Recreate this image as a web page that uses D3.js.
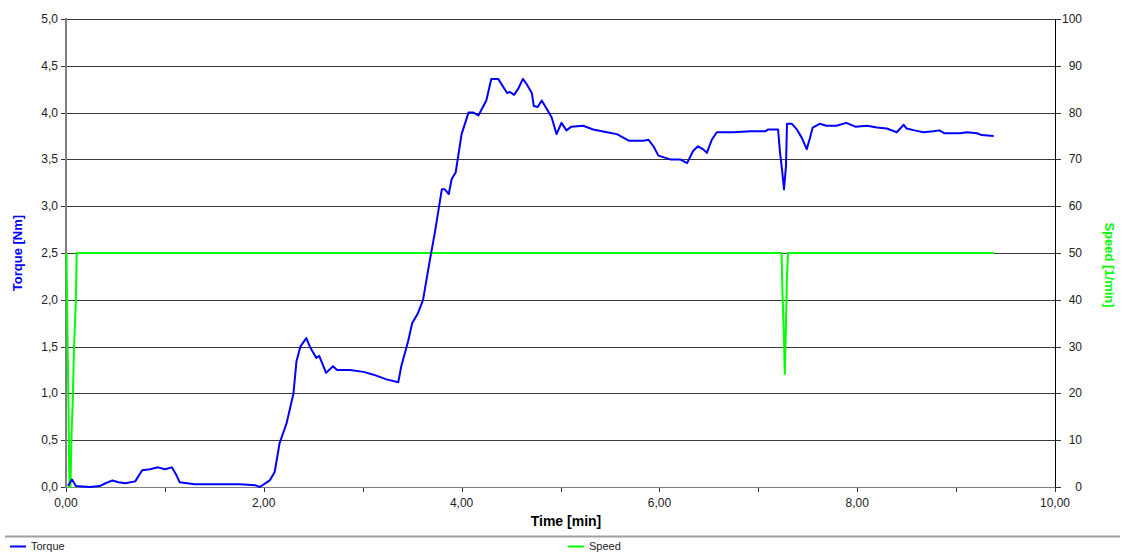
<!DOCTYPE html>
<html>
<head>
<meta charset="utf-8">
<script src="https://cdn.jsdelivr.net/npm/d3@7"></script>
<style>
  html, body { margin: 0; padding: 0; background: #fff; }
  svg { display: block; font-family: "Liberation Sans", Arial, sans-serif; }
</style>
</head>
<body>
<svg id="chart" width="1125" height="553"></svg>
<script>
// Torque measurement over time (min), with the drive speed on a secondary axis
const torqueTime = [0.02,0.06,0.10,0.24,0.34,0.40,0.47,0.53,0.60,0.70,0.77,0.85,0.93,1.00,1.07,1.11,1.15,1.30,1.51,1.76,1.91,1.96,
  2.06,2.11,2.16,2.23,2.30,2.33,2.37,2.43,2.47,2.53,2.56,2.63,2.70,2.74,2.87,3.01,3.11,3.24,3.36,3.39,3.46,3.50,3.56,3.61,
  3.68,3.73,3.80,3.83,3.87,3.90,3.94,4.00,4.07,4.12,4.17,4.25,4.30,4.37,4.46,4.49,4.53,4.57,4.62,4.66,4.71,4.73,4.77,4.81,
  4.86,4.91,4.96,5.01,5.06,5.11,5.23,5.33,5.47,5.57,5.69,5.84,5.89,5.94,5.99,6.11,6.21,6.28,6.34,6.39,6.44,6.48,6.53,6.58,
  6.75,6.92,7.07,7.10,7.20,7.22,7.24,7.26,7.28,7.29,7.34,7.39,7.44,7.49,7.52,7.55,7.62,7.69,7.79,7.89,7.98,8.10,8.20,8.30,
  8.40,8.47,8.50,8.58,8.67,8.77,8.83,8.88,9.04,9.11,9.21,9.26,9.38];
const torqueNm = [0.01,0.08,0.01,0.00,0.01,0.04,0.07,0.05,0.04,0.06,0.18,0.19,0.21,0.19,0.21,0.14,0.05,0.03,0.03,0.03,0.02,0.00,
  0.07,0.16,0.47,0.68,1.00,1.34,1.50,1.59,1.49,1.38,1.40,1.22,1.29,1.25,1.25,1.23,1.20,1.15,1.12,1.29,1.56,1.75,1.86,2.00,
  2.43,2.72,3.18,3.18,3.13,3.29,3.36,3.77,4.00,4.00,3.97,4.13,4.36,4.36,4.21,4.22,4.19,4.25,4.36,4.30,4.21,4.07,4.06,4.13,
  4.04,3.95,3.77,3.89,3.81,3.85,3.86,3.82,3.79,3.77,3.70,3.70,3.71,3.64,3.54,3.50,3.50,3.46,3.59,3.64,3.61,3.57,3.71,3.79,
  3.79,3.80,3.80,3.82,3.82,3.57,3.39,3.18,3.43,3.88,3.88,3.82,3.73,3.61,3.72,3.84,3.88,3.86,3.86,3.89,3.85,3.86,3.84,3.83,
  3.79,3.87,3.83,3.81,3.79,3.80,3.81,3.78,3.78,3.79,3.78,3.76,3.75];

const speedTime = [0.005,0.015,0.025,0.035,0.045,0.057,0.068,0.080,0.100,0.108,7.235,7.245,7.258,7.268,7.280,7.290,7.300,9.38];
const speedRpm  = [50,33,17,0,0,12,18,29,40,50,50,41,33,24,35,45,50,50];

const torqueTicks = [0,0.5,1,1.5,2,2.5,3,3.5,4,4.5,5];
const speedTicks = [0,10,20,30,40,50,60,70,80,90,100];
const timeTicks = [0,1,2,3,4,5,6,7,8,9,10];
const timeLabels = [0,2,4,6,8,10];

const svg = d3.select("#chart");
const plotLeft = 66, plotRight = 1055, plotTop = 19, plotBottom = 487;

const x = d3.scaleLinear().domain([0, 10]).range([plotLeft, plotRight]);
const yT = d3.scaleLinear().domain([0, 5]).range([plotBottom, plotTop]);
const yS = d3.scaleLinear().domain([0, 100]).range([plotBottom, plotTop]);
const fmt1 = d3.format(".1f"), fmt2 = d3.format(".2f");
const comma = s => s.replace(".", ",");

// horizontal grid
svg.append("g").selectAll("line").data(torqueTicks.slice(1)).join("line")
  .attr("x1", plotLeft).attr("x2", plotRight)
  .attr("y1", d => Math.round(yT(d)) + 0.5).attr("y2", d => Math.round(yT(d)) + 0.5)
  .attr("stroke", "#3a3a3a").attr("stroke-width", 1);

// left axis
const gl = svg.append("g");
gl.selectAll("line").data(torqueTicks).join("line")
  .attr("x1", plotLeft - 5).attr("x2", plotLeft)
  .attr("y1", d => Math.round(yT(d)) + 0.5).attr("y2", d => Math.round(yT(d)) + 0.5)
  .attr("stroke", "#333");
gl.selectAll("text").data(torqueTicks).join("text")
  .attr("x", plotLeft - 8).attr("y", d => yT(d) + 4)
  .attr("text-anchor", "end").attr("font-size", 12).attr("fill", "#222")
  .text(d => comma(fmt1(d)));

// right axis
const gr = svg.append("g");
gr.selectAll("line").data(speedTicks).join("line")
  .attr("x1", plotRight).attr("x2", plotRight + 6)
  .attr("y1", d => Math.round(yS(d)) + 0.5).attr("y2", d => Math.round(yS(d)) + 0.5)
  .attr("stroke", "#333");
gr.selectAll("text").data(speedTicks).join("text")
  .attr("x", 1082).attr("y", d => yS(d) + 4)
  .attr("text-anchor", "end").attr("font-size", 12).attr("fill", "#222")
  .text(d => d);

// bottom axis ticks and labels
const gb = svg.append("g");
gb.selectAll("line").data(timeTicks).join("line")
  .attr("x1", d => Math.round(x(d)) + 0.5).attr("x2", d => Math.round(x(d)) + 0.5)
  .attr("y1", plotBottom).attr("y2", plotBottom + 5)
  .attr("stroke", "#333");
gb.selectAll("text").data(timeLabels).join("text")
  .attr("x", d => x(d)).attr("y", plotBottom + 20)
  .attr("text-anchor", "middle").attr("font-size", 12).attr("fill", "#222")
  .text(d => comma(fmt2(d)));

// frame lines
svg.append("line").attr("x1", plotRight + 0.5).attr("x2", plotRight + 0.5).attr("y1", plotTop).attr("y2", plotBottom)
  .attr("stroke", "#000");
svg.append("line").attr("x1", plotLeft).attr("x2", plotLeft).attr("y1", plotTop - 1).attr("y2", plotBottom + 1)
  .attr("stroke", "#808080").attr("stroke-width", 2);
svg.append("line").attr("x1", plotLeft).attr("x2", plotRight).attr("y1", plotBottom + 0.5).attr("y2", plotBottom + 0.5)
  .attr("stroke", "#808080").attr("stroke-width", 1);

// series
const speedLine = d3.line().x((d, i) => x(speedTime[i])).y(d => yS(d));
const torqueLine = d3.line().x((d, i) => x(torqueTime[i])).y(d => yT(d));

svg.append("path").datum(speedRpm).attr("d", speedLine)
  .attr("fill", "none").attr("stroke", "#00ff00").attr("stroke-width", 2);
svg.append("path").datum(torqueNm).attr("d", torqueLine)
  .attr("fill", "none").attr("stroke", "#0000ff").attr("stroke-width", 2)
  .attr("stroke-linejoin", "round");

// axis titles
svg.append("text").attr("transform", "translate(22,253) rotate(-90)")
  .attr("text-anchor", "middle").attr("font-size", 13).attr("font-weight", "bold")
  .attr("fill", "#0000ff").text("Torque [Nm]");
svg.append("text").attr("transform", "translate(1105,265) rotate(90)")
  .attr("text-anchor", "middle").attr("font-size", 13).attr("font-weight", "bold")
  .attr("fill", "#00ff00").text("Speed [1/min]");
svg.append("text").attr("x", 566).attr("y", 526)
  .attr("text-anchor", "middle").attr("font-size", 14).attr("font-weight", "bold")
  .attr("fill", "#000").text("Time [min]");

// legend
svg.append("line").attr("x1", 5).attr("x2", 1120).attr("y1", 536.5).attr("y2", 536.5)
  .attr("stroke", "#a0a0a0").attr("stroke-width", 2);
const legend = [{name: "Torque", color: "#0000ff", x0: 10}, {name: "Speed", color: "#00ff00", x0: 568}];
const lg = svg.append("g").selectAll("g").data(legend).join("g");
lg.append("line").attr("x1", d => d.x0).attr("x2", d => d.x0 + 16)
  .attr("y1", 546.5).attr("y2", 546.5).attr("stroke", d => d.color).attr("stroke-width", 2);
lg.append("text").attr("x", d => d.x0 + 21).attr("y", 550)
  .attr("font-size", 11).attr("fill", "#222").text(d => d.name);
</script>
</body>
</html>
